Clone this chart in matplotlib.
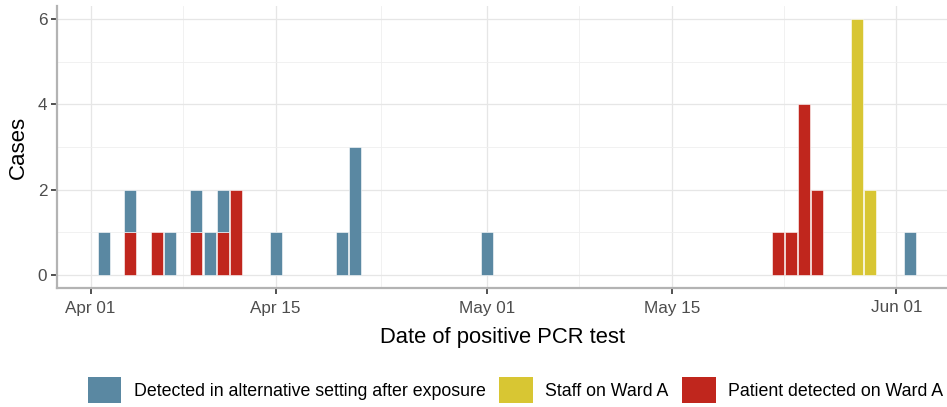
import numpy as np
import matplotlib
matplotlib.use("Agg")
import matplotlib.pyplot as plt
import matplotlib.dates as mdates
from matplotlib.patches import Patch
from matplotlib.ticker import MultipleLocator

plt.rcParams['font.family'] = ['Liberation Sans', 'DejaVu Sans']

# ---- data ----
alt_dates = ["2020-04-02", "2020-04-04", "2020-04-07", "2020-04-09", "2020-04-10",
             "2020-04-11", "2020-04-15", "2020-04-20", "2020-04-21", "2020-05-01",
             "2020-06-02"]
alt_counts = [1, 1, 1, 1, 1, 1, 1, 1, 3, 1, 1]

patient_dates = ["2020-04-04", "2020-04-06", "2020-04-09", "2020-04-11", "2020-04-12",
                 "2020-05-23", "2020-05-24", "2020-05-25", "2020-05-26"]
patient_counts = [1, 1, 1, 1, 2, 1, 1, 4, 2]

staff_dates = ["2020-05-29", "2020-05-30"]
staff_counts = [6, 2]

labels = ["Detected in alternative setting after exposure", "Staff on Ward A",
          "Patient detected on Ward A"]
colors = ["#5A88A2", "#D8C633", "#C0261D"]

tick_dates = ["2020-04-01", "2020-04-15", "2020-05-01", "2020-05-15", "2020-06-01"]
tick_labels = ["Apr 01", "Apr 15", "May 01", "May 15", "Jun 01"]
minor_dates = ["2020-04-08", "2020-04-23", "2020-05-08", "2020-05-23 12:00"]

# ---- figure ----
fig = plt.figure(figsize=(9.47, 4.07), dpi=100)
ax = fig.add_axes([57/947, 1-288/407, 1-57/947, (288-6)/407])

to_num = lambda ds: mdates.date2num(np.array(ds, dtype="datetime64[m]"))
pd_num = to_num(patient_dates)
ad_num = to_num(alt_dates)
sd_num = to_num(staff_dates)

pat_map = dict(zip(pd_num, patient_counts))
alt_bottom = [pat_map.get(d, 0) for d in ad_num]

ax.bar(pd_num, patient_counts, width=0.9, color=colors[2], edgecolor="white", linewidth=0.4, zorder=3)
ax.bar(ad_num, alt_counts, bottom=alt_bottom, width=0.9, color=colors[0], edgecolor="white", linewidth=0.4, zorder=3)
ax.bar(sd_num, staff_counts, width=0.9, color=colors[1], edgecolor="white", linewidth=0.4, zorder=3)

apr1 = mdates.date2num(np.datetime64("2020-04-01"))
ax.set_xlim(apr1 - 2.55, apr1 - 2.55 + (947 - 57) / 13.21)
ax.set_ylim(-0.3, 6.3)

ax.set_xticks(to_num(tick_dates))
ax.set_xticklabels(tick_labels)
ax.set_xticks(to_num(minor_dates), minor=True)
ax.set_yticks([0, 2, 4, 6])
ax.yaxis.set_minor_locator(MultipleLocator(1))

ax.grid(True, which="major", color="#E6E6E6", linewidth=0.9, zorder=0)
ax.grid(True, which="minor", color="#EFEFEF", linewidth=0.6, zorder=0)
ax.set_axisbelow(True)

for s in ["top", "right"]:
    ax.spines[s].set_visible(False)
for s in ["left", "bottom"]:
    ax.spines[s].set_color("#B3B3B3")
    ax.spines[s].set_linewidth(1.6)

ax.tick_params(which="major", length=4, width=1.2, color="#333333",
               labelsize=12.3, labelcolor="#4D4D4D", pad=3)
ax.tick_params(axis="x", which="major", pad=5)
ax.tick_params(which="minor", length=0)

ax.set_xlabel("Date of positive PCR test", fontsize=15.8, color="black", labelpad=8)
ax.set_ylabel("Cases", fontsize=16, color="black", labelpad=6)

handles = [Patch(facecolor=c, edgecolor="none") for c in colors]
fig.legend(handles, labels, loc="center", bbox_to_anchor=(515.5/947, 1-390/407),
           ncol=3, frameon=False, fontsize=12.8, handlelength=1.9, handleheight=1.9,
           handletextpad=0.7, columnspacing=0.75, borderaxespad=0, borderpad=0)

fig.savefig("out.png", dpi=100)
